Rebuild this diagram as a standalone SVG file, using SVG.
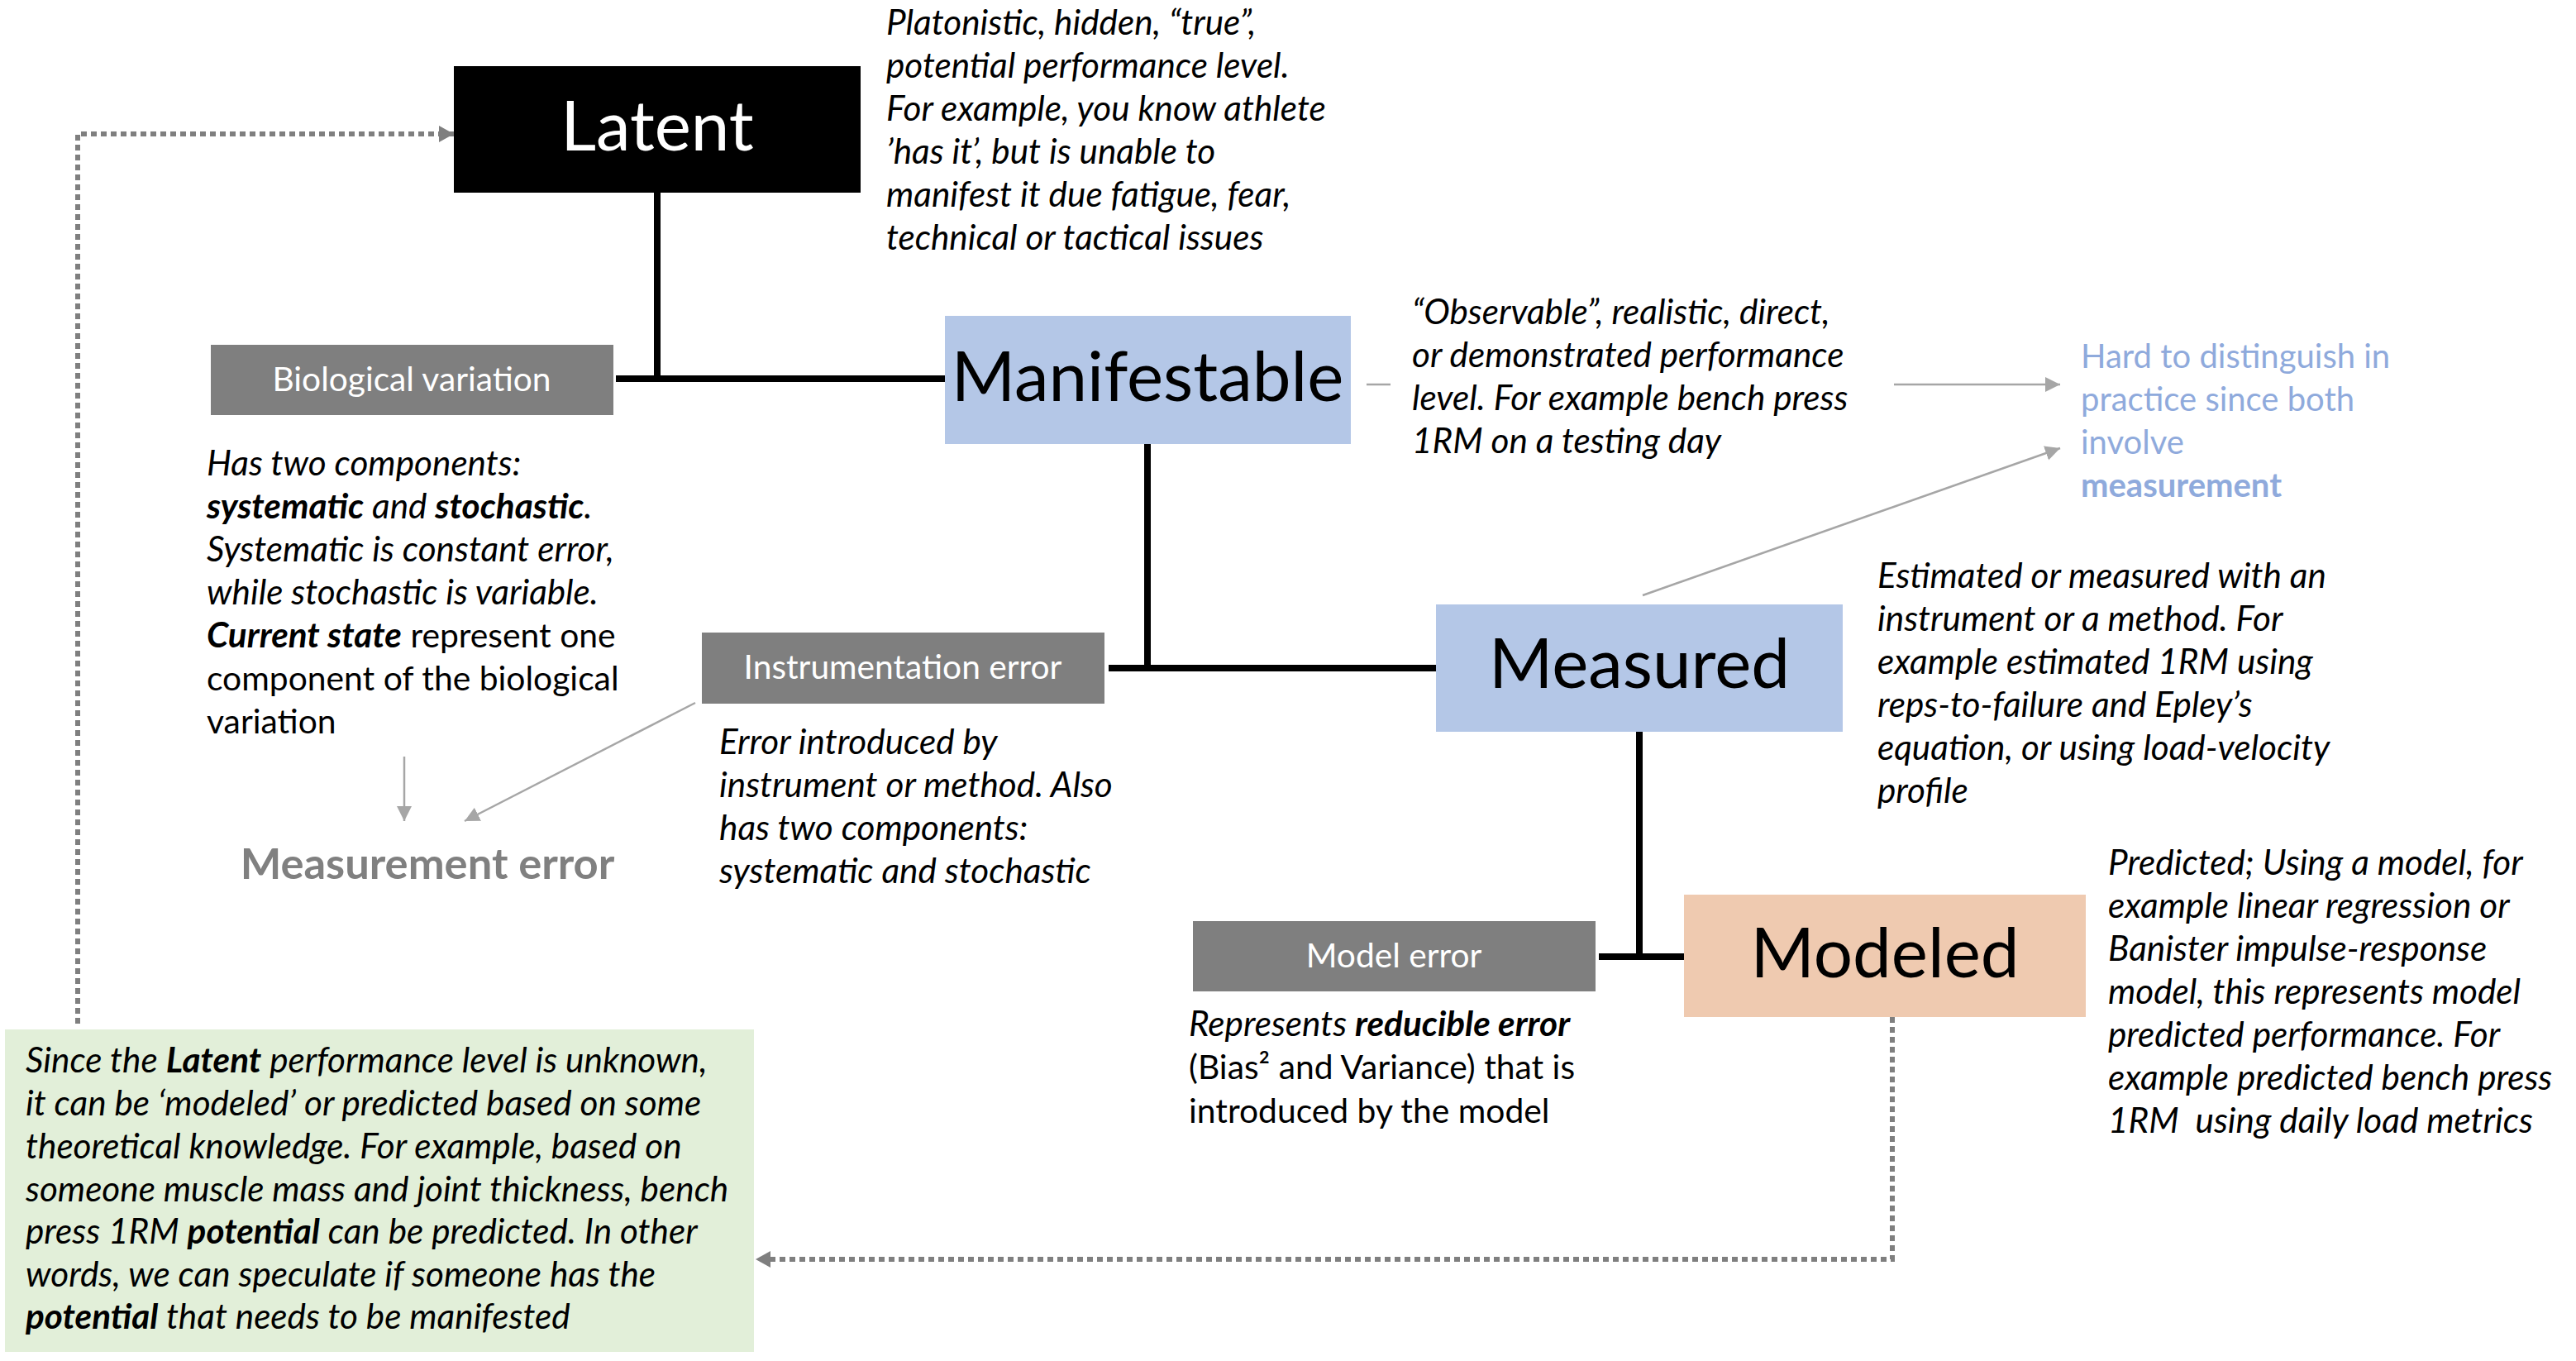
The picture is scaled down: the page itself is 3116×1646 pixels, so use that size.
<svg xmlns="http://www.w3.org/2000/svg" width="3116" height="1646" viewBox="0 0 3116 1646">
<style>
  text { font-family: Lato, "Liberation Sans", sans-serif; }
  .big { font-size: 83.5px; text-anchor: middle; }
  .lbl { font-size: 40.7px; fill: #ffffff; text-anchor: middle; }
  .desc { font-size: 42.3px; fill: #000000; font-style: italic; }
  .up { font-style: normal; font-size: 40.8px; }
  .b { font-weight: bold; }
  .hint { font-size: 40px; fill: #8FAADC; }
  .graybox { fill: #7f7f7f; }
  .thick { stroke: #000000; stroke-width: 8; fill: none; }
  .thin { stroke: #a6a6a6; stroke-width: 2.5; fill: none; }
  .dot { stroke: #7f7f7f; stroke-width: 6; stroke-dasharray: 7 5; fill: none; }
</style>
<defs>
  <marker id="ah" markerUnits="userSpaceOnUse" markerWidth="20" markerHeight="20" viewBox="0 0 20 20" refX="18" refY="10" orient="auto">
    <path d="M0,1 L18,10 L0,19 Z" fill="#a6a6a6"/>
  </marker>
  <marker id="dh" markerUnits="userSpaceOnUse" markerWidth="20" markerHeight="22" viewBox="0 0 20 22" refX="18" refY="11" orient="auto">
    <path d="M0,1 L18,11 L0,21 Z" fill="#7f7f7f"/>
  </marker>
</defs>
<rect width="3116" height="1646" fill="#ffffff"/>

<g id="connectors">
  <line class="thick" x1="795" y1="233" x2="795" y2="462"/>
  <line class="thick" x1="745" y1="458" x2="1143" y2="458"/>
  <line class="thick" x1="1388" y1="537" x2="1388" y2="812"/>
  <line class="thick" x1="1341" y1="808" x2="1737" y2="808"/>
  <line class="thick" x1="1983" y1="885" x2="1983" y2="1161"/>
  <line class="thick" x1="1934" y1="1157" x2="2037" y2="1157"/>
  <line class="thin" x1="1653" y1="465" x2="1682" y2="465"/>
  <line class="thin" x1="2291" y1="465" x2="2492" y2="465" marker-end="url(#ah)"/>
  <line class="thin" x1="1987" y1="720" x2="2492" y2="542" marker-end="url(#ah)"/>
  <line class="thin" x1="489" y1="915" x2="489" y2="993" marker-end="url(#ah)"/>
  <line class="thin" x1="841" y1="850" x2="562" y2="993" marker-end="url(#ah)"/>
  <path class="dot" d="M94,1238 V162 H549" marker-end="url(#dh)"/>
  <path class="dot" d="M2289,1230 V1523 H914" marker-end="url(#dh)"/>
</g>

<g id="latent">
  <rect x="549" y="80" width="492" height="153" fill="#000000"/>
  <text class="big" x="795" y="182" fill="#ffffff">Latent</text>
</g>
<g id="latent-desc">
  <text class="desc">
    <tspan x="1072" y="42">Platonistic, hidden, “true”,</tspan>
    <tspan x="1072" y="94">potential performance level.</tspan>
    <tspan x="1072" y="146">For example, you know athlete</tspan>
    <tspan x="1072" y="198">’has it’, but is unable to</tspan>
    <tspan x="1072" y="250">manifest it due fatigue, fear,</tspan>
    <tspan x="1072" y="302">technical or tactical issues</tspan>
  </text>
</g>

<g id="biological-variation">
  <rect class="graybox" x="255" y="417" width="487" height="85"/>
  <text class="lbl" x="498" y="473">Biological variation</text>
</g>
<g id="biological-desc">
  <text class="desc">
    <tspan x="250" y="575">Has two components:</tspan>
    <tspan x="250" y="627"><tspan class="b">systematic</tspan> and <tspan class="b">stochastic</tspan>.</tspan>
    <tspan x="250" y="679">Systematic is constant error,</tspan>
    <tspan x="250" y="731">while stochastic is variable.</tspan>
    <tspan x="250" y="783"><tspan class="b">Current state</tspan><tspan class="up"> represent one</tspan></tspan>
    <tspan x="250" y="835" class="up">component of the biological</tspan>
    <tspan x="250" y="887" class="up">variation</tspan>
  </text>
</g>

<g id="manifestable">
  <rect x="1143" y="382" width="491" height="155" fill="#b4c7e7"/>
  <text class="big" x="1388" y="485" fill="#000000">Manifestable</text>
</g>
<g id="manifestable-desc">
  <text class="desc">
    <tspan x="1708" y="392">“Observable”, realistic, direct,</tspan>
    <tspan x="1708" y="444">or demonstrated performance</tspan>
    <tspan x="1708" y="496">level. For example bench press</tspan>
    <tspan x="1708" y="548">1RM on a testing day</tspan>
  </text>
</g>

<g id="hard-to-distinguish">
  <text class="hint">
    <tspan x="2517" y="445">Hard to distinguish in</tspan>
    <tspan x="2517" y="497">practice since both</tspan>
    <tspan x="2517" y="549">involve</tspan>
    <tspan x="2517" y="601" class="b">measurement</tspan>
  </text>
</g>

<g id="instrumentation-error">
  <rect class="graybox" x="849" y="765" width="487" height="86"/>
  <text class="lbl" x="1092" y="821">Instrumentation error</text>
</g>
<g id="instrumentation-desc">
  <text class="desc">
    <tspan x="870" y="912">Error introduced by</tspan>
    <tspan x="870" y="964">instrument or method. Also</tspan>
    <tspan x="870" y="1016">has two components:</tspan>
    <tspan x="870" y="1068">systematic and stochastic</tspan>
  </text>
</g>

<g id="measurement-error">
  <text x="517" y="1063" text-anchor="middle" font-size="52.5" font-weight="bold" fill="#808080">Measurement error</text>
</g>

<g id="measured">
  <rect x="1737" y="731" width="492" height="154" fill="#b4c7e7"/>
  <text class="big" x="1983" y="832" fill="#000000">Measured</text>
</g>
<g id="measured-desc">
  <text class="desc">
    <tspan x="2271" y="711">Estimated or measured with an</tspan>
    <tspan x="2271" y="763">instrument or a method. For</tspan>
    <tspan x="2271" y="815">example estimated 1RM using</tspan>
    <tspan x="2271" y="867">reps-to-failure and Epley’s</tspan>
    <tspan x="2271" y="919">equation, or using load-velocity</tspan>
    <tspan x="2271" y="971">profile</tspan>
  </text>
</g>

<g id="model-error">
  <rect class="graybox" x="1443" y="1114" width="487" height="85"/>
  <text class="lbl" x="1686" y="1170">Model error</text>
</g>
<g id="model-error-desc">
  <text class="desc">
    <tspan x="1438" y="1253">Represents <tspan class="b">reducible error</tspan></tspan>
    <tspan x="1438" y="1305" class="up">(Bias² and Variance) that is</tspan>
    <tspan x="1438" y="1358" class="up">introduced by the model</tspan>
  </text>
</g>

<g id="modeled">
  <rect x="2037" y="1082" width="486" height="148" fill="#efcab0"/>
  <text class="big" x="2280" y="1182" fill="#000000">Modeled</text>
</g>
<g id="modeled-desc">
  <text class="desc">
    <tspan x="2550" y="1058">Predicted; Using a model, for</tspan>
    <tspan x="2550" y="1110">example linear regression or</tspan>
    <tspan x="2550" y="1162">Banister impulse-response</tspan>
    <tspan x="2550" y="1214">model, this represents model</tspan>
    <tspan x="2550" y="1266">predicted performance. For</tspan>
    <tspan x="2550" y="1318">example predicted bench press</tspan>
    <tspan x="2550" y="1370" xml:space="preserve">1RM  using daily load metrics</tspan>
  </text>
</g>

<g id="latent-prediction-note">
  <rect x="6" y="1245" width="906" height="390" fill="#e2efd9"/>
  <text class="desc">
    <tspan x="31" y="1297">Since the <tspan class="b">Latent</tspan> performance level is unknown,</tspan>
    <tspan x="31" y="1349">it can be ‘modeled’ or predicted based on some</tspan>
    <tspan x="31" y="1401">theoretical knowledge. For example, based on</tspan>
    <tspan x="31" y="1453">someone muscle mass and joint thickness, bench</tspan>
    <tspan x="31" y="1504">press 1RM <tspan class="b">potential</tspan> can be predicted. In other</tspan>
    <tspan x="31" y="1556">words, we can speculate if someone has the</tspan>
    <tspan x="31" y="1607"><tspan class="b">potential</tspan> that needs to be manifested</tspan>
  </text>
</g>
</svg>
